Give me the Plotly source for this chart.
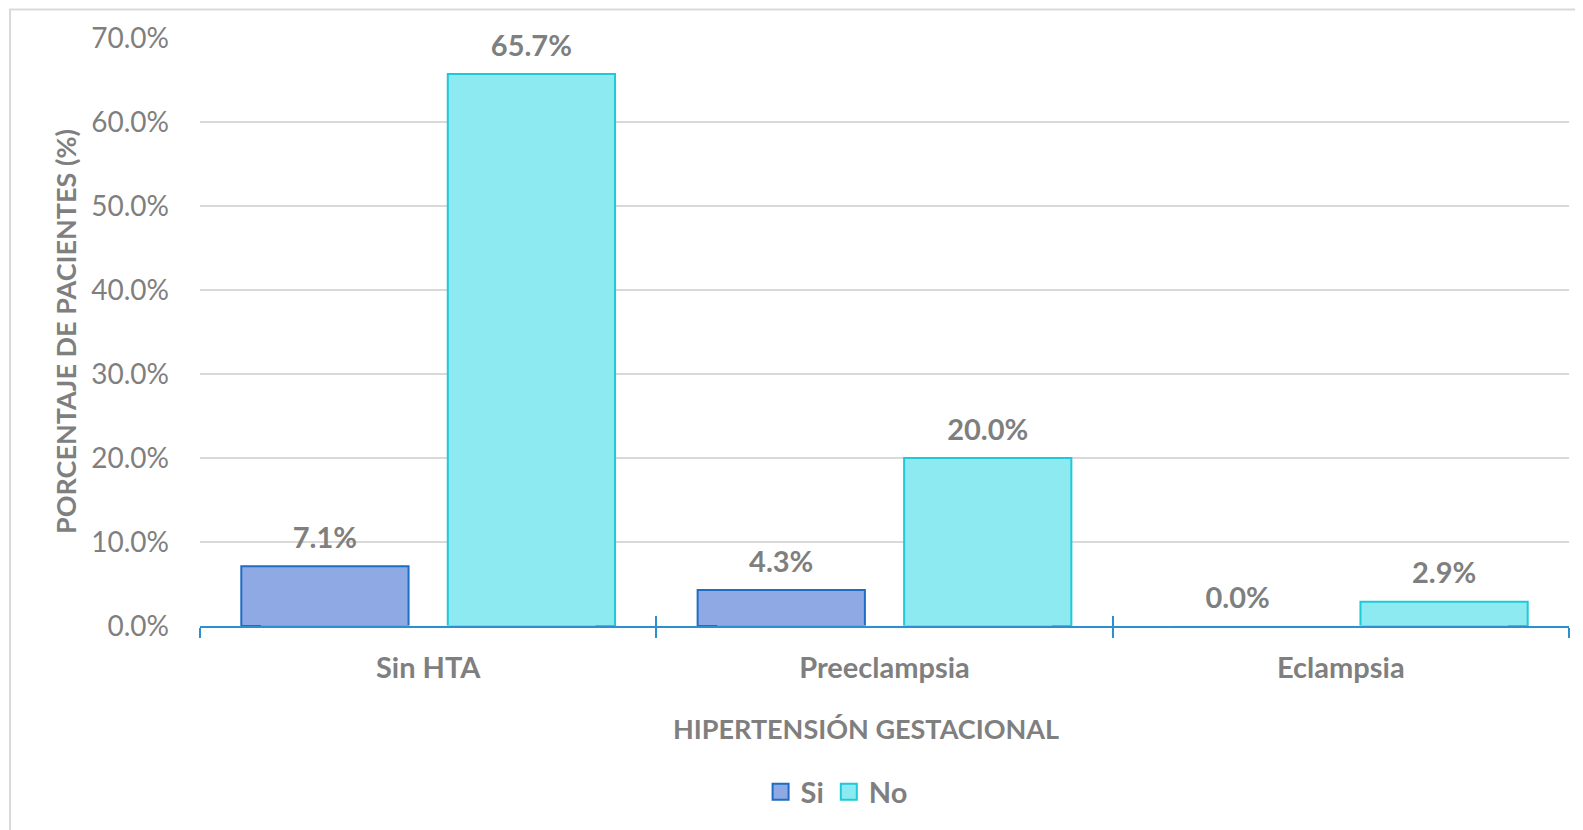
import plotly.graph_objects as go

categories = ["Sin HTA", "Preeclampsia", "Eclampsia"]
si_values = [7.1, 4.3, 0.0]
no_values = [65.7, 20.0, 2.9]
y_ticks = [0, 10, 20, 30, 40, 50, 60, 70]
y_tick_labels = [f"{v:.1f}%" for v in y_ticks]

GRAY = "#7F7F7F"
FONT = "Lato"
SI_FILL, SI_LINE = "#8FA9E4", "#1F6CC4"
NO_FILL, NO_LINE = "#8DEAF1", "#1CCAD8"
LABEL_FONT = dict(family=FONT, size=29, color=GRAY, weight="bold")

fig = go.Figure()
for name, vals, fill, line in [("Si", si_values, SI_FILL, SI_LINE), ("No", no_values, NO_FILL, NO_LINE)]:
    fig.add_trace(go.Bar(
        name=name, x=categories, y=vals, offsetgroup=name, alignmentgroup="g",
        marker=dict(color=fill, line=dict(color=line, width=[2 if v > 0 else 0 for v in vals])),
        showlegend=False, hoverinfo="x+y",
    ))
for name, vals in [("Si", si_values), ("No", no_values)]:
    fig.add_trace(go.Scatter(
        x=categories, y=vals, mode="markers+text", offsetgroup=name, alignmentgroup="g",
        marker=dict(size=16, opacity=0), text=[f"{v:.1f}%" for v in vals],
        textposition="top center", textfont=LABEL_FONT, showlegend=False,
        hoverinfo="skip", cliponaxis=False,
    ))
for name, fill, line in [("Si", SI_FILL, SI_LINE), ("No", NO_FILL, NO_LINE)]:
    fig.add_trace(go.Scatter(
        name=name, x=[None], y=[None], mode="markers",
        marker=dict(symbol="square", size=16, color=fill, line=dict(color=line, width=2)),
    ))
# invisible trace to carry the inside ticks of the overlay axis
fig.add_trace(go.Bar(x=categories, y=[0, 0, 0], xaxis="x2", showlegend=False,
                     hoverinfo="skip", marker=dict(color="rgba(0,0,0,0)")))

fig.update_layout(
    width=1583, height=830,
    margin=dict(l=192, r=22, t=30, b=212),
    paper_bgcolor="white", plot_bgcolor="white",
    barmode="group", bargap=0.095, bargroupgap=0.19,
    scattermode="group", scattergap=0.095,
    font=dict(family=FONT, color=GRAY),
    showlegend=True,
    legend=dict(orientation="h", x=0.465, xanchor="center", y=(626 - 792) / 588, yanchor="middle",
                yref="paper", font=dict(family=FONT, size=29, color=GRAY, weight="bold"),
                traceorder="normal", itemwidth=30),
    xaxis=dict(
        type="category", categoryorder="array", categoryarray=categories,
        range=[-0.5, 2.5],
        showline=True, linecolor="#2E8FD0", linewidth=2,
        ticks="outside", tickson="boundaries", ticklen=10, tickwidth=2, tickcolor="#2E8FD0",
        tickfont=dict(family=FONT, size=29, color=GRAY, weight="bold"),
        ticklabelstandoff=15,
        showgrid=False, zeroline=False,
    ),
    xaxis2=dict(
        type="category", categoryorder="array", categoryarray=categories,
        range=[-0.5, 2.5], overlaying="x", anchor="y", side="bottom",
        ticks="inside", tickson="boundaries", ticklen=10, tickwidth=2, tickcolor="#2E8FD0",
        showticklabels=False, showgrid=False, zeroline=False, showline=False,
    ),
    yaxis=dict(
        range=[0, 70], tickvals=y_ticks, ticktext=y_tick_labels,
        tickfont=dict(family=FONT, size=28, color=GRAY),
        ticklabelstandoff=30,
        showgrid=True, gridcolor="#D9D9D9", gridwidth=2,
        zeroline=False, showline=False, ticks="",
    ),
    annotations=[
        dict(text="PORCENTAJE DE PACIENTES (%)", textangle=-90, xref="paper", yref="paper",
             x=0, y=0.5, xanchor="center", yanchor="middle", xshift=-135, showarrow=False,
             font=dict(family=FONT, size=27, color=GRAY, weight="bold")),
        dict(text="HIPERTENSIÓN GESTACIONAL", xref="paper", yref="paper",
             x=(866 - 200) / 1369, y=0, xanchor="center", yanchor="middle", yshift=-102,
             showarrow=False, font=dict(family=FONT, size=27, color=GRAY, weight="bold")),
    ],
    shapes=[
        dict(type="rect", xref="paper", yref="paper",
             x0=(10 - 200) / 1369, x1=1.2, y0=-0.6, y1=(626 - 9.5) / 588,
             line=dict(color="#D9D9D9", width=2), fillcolor="rgba(0,0,0,0)", layer="below"),
    ],
)

fig.write_html("out.html")
